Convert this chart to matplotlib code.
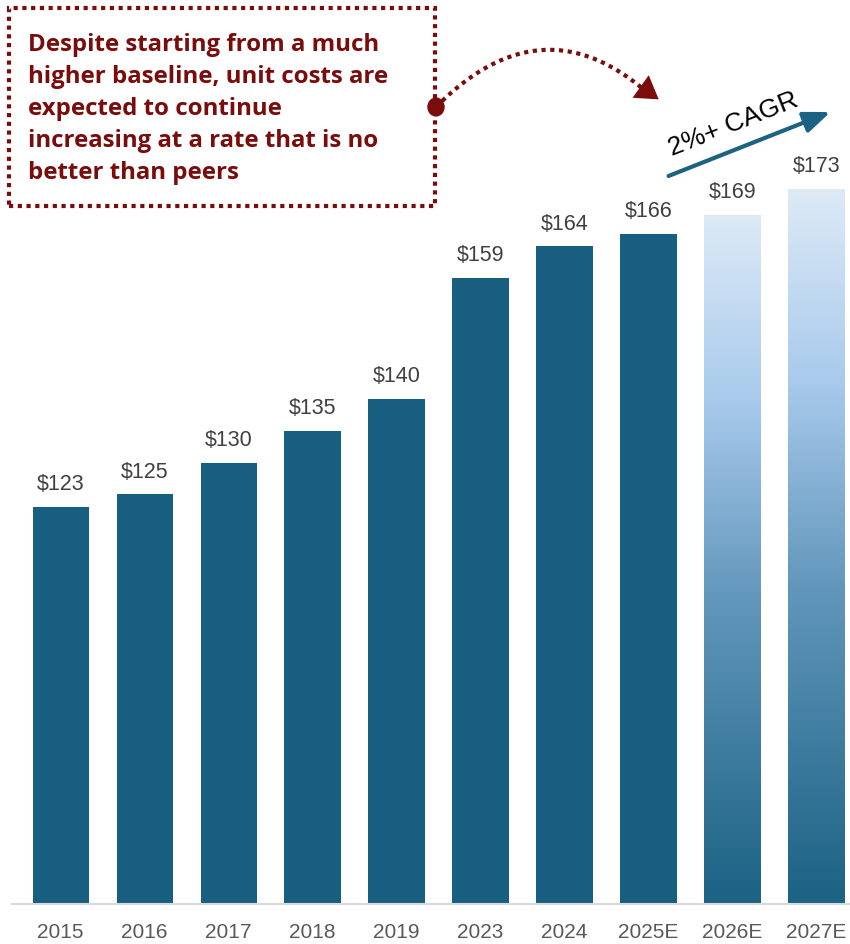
import numpy as np
import matplotlib.pyplot as plt
from matplotlib.colors import LinearSegmentedColormap
from matplotlib.patches import Rectangle, Circle, FancyArrowPatch

# unit cost by year, last two are estimates
years = ["2015", "2016", "2017", "2018", "2019", "2023", "2024", "2025E", "2026E", "2027E"]
unit_cost = [123, 125, 130, 135, 140, 159, 164, 166, 169, 173]
is_estimate = [False] * 8 + [True] * 2

note_lines = [
    "Despite starting from a much",
    "higher baseline, unit costs are",
    "expected to continue",
    "increasing at a rate that is no",
    "better than peers",
]
cagr_label = "2%+ CAGR"

W, H = 850, 945
DARK = "#175E80"
RED = "#7A0C0C"
Y0, Y1 = 60.6, 202.9

fig = plt.figure(figsize=(W / 100, H / 100), dpi=100)
ax = fig.add_axes([12 / W, 40 / H, (W - 12) / W, 905 / H])


def px(x, y):
    # pixel position (from top-left) -> figure fraction
    return x / W, 1 - y / H


x = np.arange(len(years))
bar_w = 0.67
grad_cmap = LinearSegmentedColormap.from_list(
    "proj", [(0.0, "#1B6283"), (0.45, "#6398BC"), (0.73, "#A8CAEC"), (1.0, "#DDEAF6")]
)
grad = np.linspace(0, 1, 256).reshape(-1, 1)

for xi, v, est in zip(x, unit_cost, is_estimate):
    if est:
        bar = ax.bar(xi, v - Y0, bottom=Y0, width=bar_w, color="none", edgecolor="none")[0]
        im = ax.imshow(grad, cmap=grad_cmap, origin="lower", aspect="auto",
                       extent=[xi - bar_w / 2, xi + bar_w / 2, Y0, v], zorder=2)
        im.set_clip_path(bar)
    else:
        ax.bar(xi, v, width=bar_w, color=DARK, zorder=2)
    ax.text(xi, v + 2.0, f"${v}", ha="center", va="bottom", fontsize=15.5,
            color="#404040", family="Liberation Sans")

ax.set_xlim(-0.58, 9.4)
ax.set_ylim(Y0, Y1)
ax.set_xticks(x)
ax.set_xticklabels(years, fontsize=15, color="#595959", family="Liberation Sans")
ax.tick_params(axis="x", length=0, pad=13)
ax.set_yticks([])
for s in ["top", "right", "left"]:
    ax.spines[s].set_visible(False)
ax.spines["bottom"].set_color("#D9D9D9")
ax.spines["bottom"].set_linewidth(1.5)
ax.spines["bottom"].set_zorder(3)

# growth arrow over the projected bars
fig.add_artist(FancyArrowPatch(px(666, 178), px(833, 112), transform=fig.transFigure,
                               arrowstyle="-|>,head_length=8,head_width=3.2",
                               color="#1B6283", lw=3, mutation_scale=2))
fig.text(*px(733, 124), cagr_label, rotation=21.5, ha="center", va="center",
         fontsize=19, color="black", family="Liberation Sans")

# dotted call-out box
fig.add_artist(Rectangle(px(9, 207), 426 / W, 198 / H, transform=fig.transFigure,
                         fill=False, edgecolor=RED, lw=3, linestyle=(0, (1, 1.1))))
for i, line in enumerate(note_lines):
    fig.text(*px(28, 45 + 32 * i), line, ha="left", va="center", fontsize=17.3,
             fontweight="bold", color=RED, family="Open Sans")

# dotted connector from the box to the forecast
p0 = np.array([436.0, 108.0])
p2 = np.array([650.0, 96.0])
pc = np.array([543.0, 0.0])
t = np.linspace(0, 1, 80)[:, None]
curve = (1 - t) ** 2 * p0 + 2 * (1 - t) * t * pc + t ** 2 * p2
cx, cy = px(curve[:, 0], curve[:, 1])
fig.add_artist(plt.Line2D(cx, cy, transform=fig.transFigure, color=RED, lw=3,
                          linestyle=(0, (1, 1.1))))
fig.add_artist(FancyArrowPatch(px(*curve[-8]), px(661, 102), transform=fig.transFigure,
                               arrowstyle="-|>,head_length=8,head_width=5",
                               color=RED, lw=0, mutation_scale=2))
fig.add_artist(Circle(px(436, 108), 8 / W, transform=fig.transFigure, color=RED))

fig.savefig("out.png", dpi=100)
